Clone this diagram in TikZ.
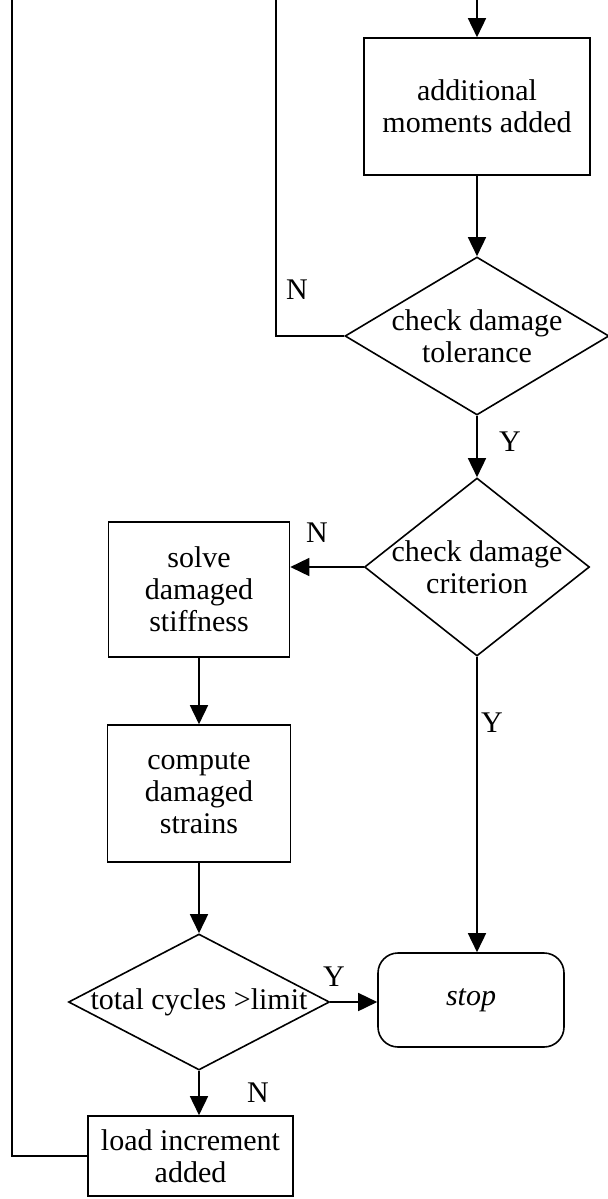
\documentclass[tikz,border=0pt]{standalone}
\usepackage{fontspec}
\setmainfont{Liberation Serif}
\usetikzlibrary{positioning,arrows.meta,shapes.geometric}
\newcommand{\flowfont}{\fontsize{15}{16}\selectfont}
\tikzset{
  blk/.style={draw,align=center,font=\flowfont,line width=0.8pt,inner sep=2pt},
  dec/.style={draw,diamond,inner sep=0pt,line width=0.8pt},
  term/.style={blk,rounded corners=10pt},
  txt/.style={align=center,font=\flowfont,inner sep=0pt},
  lbl/.style={font=\flowfont,inner sep=1pt},
  ar/.style={-{Triangle[length=9.5pt,width=9pt]},line width=0.8pt},
  ln/.style={line width=0.8pt},
}

\begin{document}
\begin{tikzpicture}[x=0.5pt,y=-0.5pt]
  \useasboundingbox (0,0) rectangle (608,1199);
  % right column
  \coordinate (in) at (477,0);
  \node[blk,minimum width=113pt,minimum height=68.5pt] (add) at (477,106.5) {additional\\moments added};
  \node[dec,minimum width=132pt,minimum height=79pt] (tol) at (477,336) {};
  \node[txt] (tolt) at (tol) {check damage\\tolerance};
  \node[dec,minimum width=112.5pt,minimum height=89pt] (crit) at (477,567) {};
  \node[txt] (critt) at (crit) {check damage\\criterion};
  \node[term,minimum width=93pt,minimum height=47pt] (stop) at (471,1000) {\itshape stop};
  % left column
  \node[blk,minimum width=90.5pt,minimum height=67.5pt] (solve) at (199,589.5) {solve\\damaged\\stiffness};
  \node[blk,minimum width=91.5pt,minimum height=68.5pt] (comp) at (199,793.5) {compute\\damaged\\strains};
  \node[dec,minimum width=130.5pt,minimum height=68pt] (cyc) at (199,1002) {};
  \node[txt] (cyct) at (cyc) {total cycles >limit};
  \node[blk,minimum width=102.5pt,minimum height=40pt] (load) at (190.5,1156) {load increment\\added};
  % loop-back lines
  \coordinate (topA) at (12,0);
  \coordinate (topB) at (276,0);
  % connectors
  \draw[ar] (in) -- (add);
  \draw[ar] (add) -- (tol);
  \draw[ar] (tol) -- (crit);
  \draw[ln] (tol.west) -| (topB);
  \draw[ar] (crit.west) -- (crit.west -| solve.east);
  \draw[ar] (crit.south) -- (crit.south |- stop.north);
  \draw[ar] (solve) -- (comp);
  \draw[ar] (comp) -- (cyc);
  \draw[ar] (cyc.east) -- (cyc.east -| stop.west);
  \draw[ar] (cyc.south) -- (cyc.south |- load.north);
  \draw[ln] (load.west) -| (topA);
  % branch labels
  \node[lbl] (n1) at (297,290) {N};
  \node[lbl] (y1) at (510,442) {Y};
  \node[lbl] (n2) at (317,533) {N};
  \node[lbl] (y2) at (492,723) {Y};
  \node[lbl] (y3) at (334,977) {Y};
  \node[lbl] (n3) at (258,1093) {N};
\end{tikzpicture}
\end{document}
